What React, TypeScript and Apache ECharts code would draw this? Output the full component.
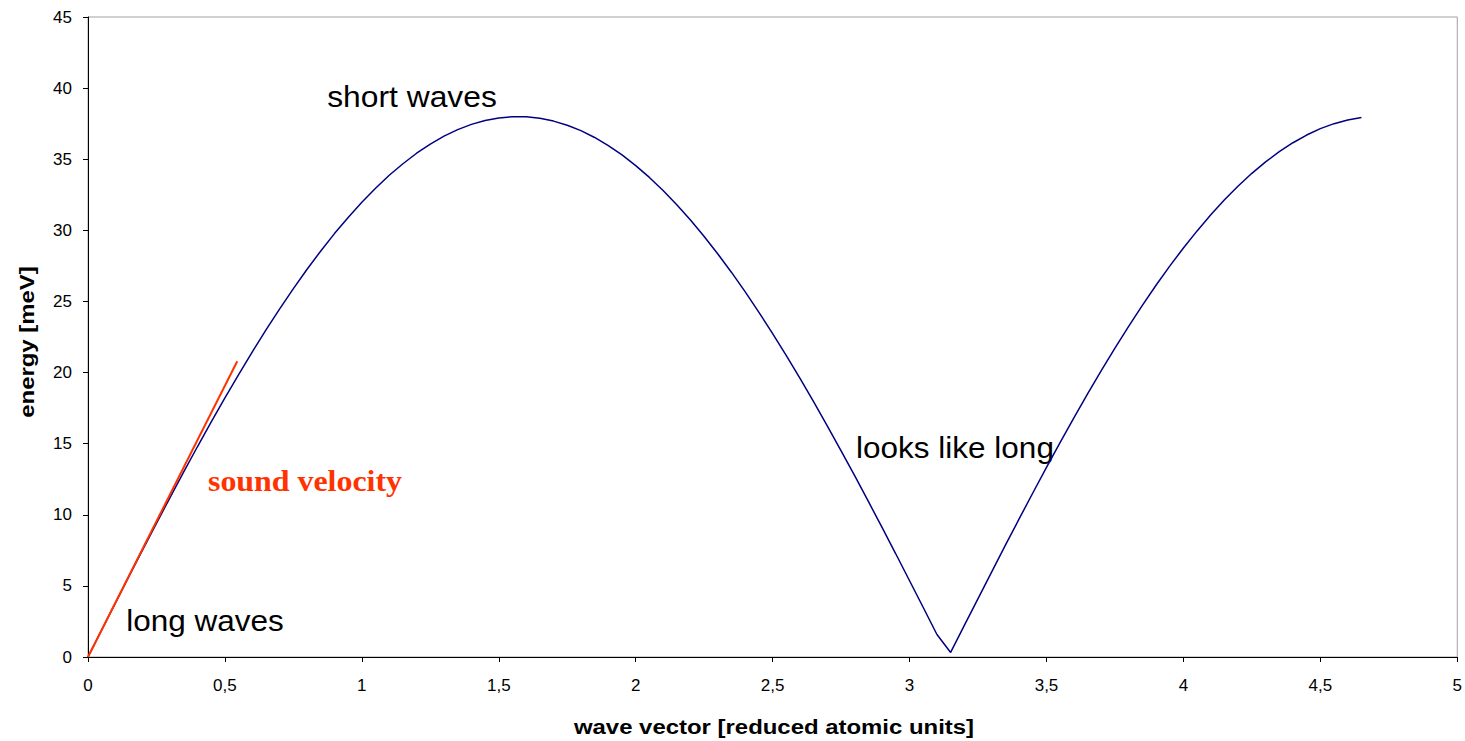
import React, { useEffect, useRef } from "react";
import * as echarts from "echarts";

// wave vector [reduced atomic units]
const waveVector = [
  0, 0.05, 0.1, 0.15, 0.2, 0.25, 0.3, 0.35, 0.4, 0.45,
  0.5, 0.55, 0.6, 0.65, 0.7, 0.75, 0.8, 0.85, 0.9, 0.95,
  1.0, 1.05, 1.1, 1.15, 1.2, 1.25, 1.3, 1.35, 1.4, 1.45,
  1.5, 1.55, 1.6, 1.65, 1.7, 1.75, 1.8, 1.85, 1.9, 1.95,
  2.0, 2.05, 2.1, 2.15, 2.2, 2.25, 2.3, 2.35, 2.4, 2.45,
  2.5, 2.55, 2.6, 2.65, 2.7, 2.75, 2.8, 2.85, 2.9, 2.95,
  3.0, 3.05, 3.1, 3.15, 3.2, 3.25, 3.3, 3.35, 3.4, 3.45,
  3.5, 3.55, 3.6, 3.65, 3.7, 3.75, 3.8, 3.85, 3.9, 3.95,
  4.0, 4.05, 4.1, 4.15, 4.2, 4.25, 4.3, 4.35, 4.4, 4.45,
  4.5, 4.55, 4.6, 4.65,
];

// energy [meV]
const energy = [
  0, 1.9, 3.79, 5.68, 7.55, 9.4, 11.23, 13.03, 14.8, 16.53,
  18.22, 19.86, 21.46, 23.0, 24.48, 25.9, 27.26, 28.55, 29.77, 30.91,
  31.98, 32.96, 33.87, 34.68, 35.42, 36.06, 36.62, 37.08, 37.45, 37.72,
  37.9, 37.99, 37.98, 37.88, 37.68, 37.39, 37.01, 36.53, 35.96, 35.3,
  34.55, 33.72, 32.8, 31.8, 30.72, 29.57, 28.34, 27.04, 25.67, 24.23,
  22.74, 21.19, 19.59, 17.94, 16.24, 14.5, 12.73, 10.92, 9.09, 7.24,
  5.36, 3.48, 1.58, 0.32, 2.22, 4.11, 5.99, 7.86, 9.71, 11.53,
  13.33, 15.09, 16.82, 18.5, 20.13, 21.72, 23.25, 24.72, 26.14, 27.48,
  28.76, 29.96, 31.09, 32.15, 33.12, 34.01, 34.81, 35.53, 36.16, 36.7,
  37.15, 37.5, 37.76, 37.93,
];

// sound velocity tangent line
const soundK = [0, 0.545];
const soundE = [0, 20.8];

const xTicks = { min: 0, max: 5, interval: 0.5 };
const yTicks = { min: 0, max: 45, interval: 5 };

const SANS = "'Liberation Sans', Arial, sans-serif";
const SERIF = "'Liberation Serif', 'Times New Roman', serif";

export default function App() {
  const ref = useRef<HTMLDivElement>(null);

  useEffect(() => {
    if (!ref.current) return;
    const chart = echarts.init(ref.current, undefined, { renderer: "svg" });
    const curve = waveVector.map((k, i) => [k, energy[i]]);
    const sound = soundK.map((k, i) => [k, soundE[i]]);

    chart.setOption({
      animation: false,
      backgroundColor: "#ffffff",
      grid: {
        left: 88,
        right: 6,
        top: 17,
        bottom: 84,
        show: true,
        borderColor: "#a0a0a0",
        borderWidth: 1,
        backgroundColor: "transparent",
      },
      xAxis: {
        type: "value",
        min: xTicks.min,
        max: xTicks.max,
        interval: xTicks.interval,
        axisLine: { show: true, onZero: false, lineStyle: { color: "#000", width: 1 } },
        axisTick: { show: true, length: 5, lineStyle: { color: "#000" } },
        splitLine: { show: false },
        axisLabel: {
          color: "#000",
          fontSize: 17,
          fontFamily: SANS,
          margin: 20,
          formatter: (v: number) => String(v).replace(".", ","),
        },
      },
      yAxis: {
        type: "value",
        min: yTicks.min,
        max: yTicks.max,
        interval: yTicks.interval,
        axisLine: { show: true, lineStyle: { color: "#000", width: 1 } },
        axisTick: { show: true, length: 5, lineStyle: { color: "#000" } },
        splitLine: { show: false },
        axisLabel: {
          color: "#000",
          fontSize: 17,
          fontFamily: SANS,
          margin: 16,
        },
      },
      series: [
        {
          type: "line",
          data: curve,
          symbol: "none",
          lineStyle: { color: "#000080", width: 1.5 },
          z: 2,
        },
        {
          type: "line",
          data: sound,
          symbol: "none",
          lineStyle: { color: "#ff3300", width: 2 },
          z: 3,
        },
      ],
      graphic: [
        {
          type: "text",
          x: 412,
          y: 97,
          scaleX: 1.06,
          style: {
            text: "short waves",
            font: `30px ${SANS}`,
            fill: "#000",
            align: "center",
            verticalAlign: "middle",
          },
        },
        {
          type: "text",
          x: 205,
          y: 621,
          scaleX: 1.05,
          style: {
            text: "long waves",
            font: `30px ${SANS}`,
            fill: "#000",
            align: "center",
            verticalAlign: "middle",
          },
        },
        {
          type: "text",
          x: 955,
          y: 448,
          scaleX: 1.05,
          style: {
            text: "looks like long",
            font: `30px ${SANS}`,
            fill: "#000",
            align: "center",
            verticalAlign: "middle",
          },
        },
        {
          type: "text",
          x: 305,
          y: 481,
          scaleX: 1.1,
          style: {
            text: "sound velocity",
            font: `bold 29px ${SERIF}`,
            fill: "#ff3300",
            align: "center",
            verticalAlign: "middle",
          },
        },
        {
          type: "text",
          x: 774,
          y: 727,
          scaleX: 1.14,
          style: {
            text: "wave vector [reduced atomic units]",
            font: `bold 21px ${SANS}`,
            fill: "#000",
            align: "center",
            verticalAlign: "middle",
          },
        },
        {
          type: "text",
          x: 27,
          y: 342,
          rotation: Math.PI / 2,
          scaleX: 1.14,
          style: {
            text: "energy [meV]",
            font: `bold 21px ${SANS}`,
            fill: "#000",
            align: "center",
            verticalAlign: "middle",
          },
        },
      ],
    });

    return () => chart.dispose();
  }, []);

  return <div ref={ref} style={{ width: 1465, height: 741, position: "fixed", left: 0, top: 0 }} />;
}
